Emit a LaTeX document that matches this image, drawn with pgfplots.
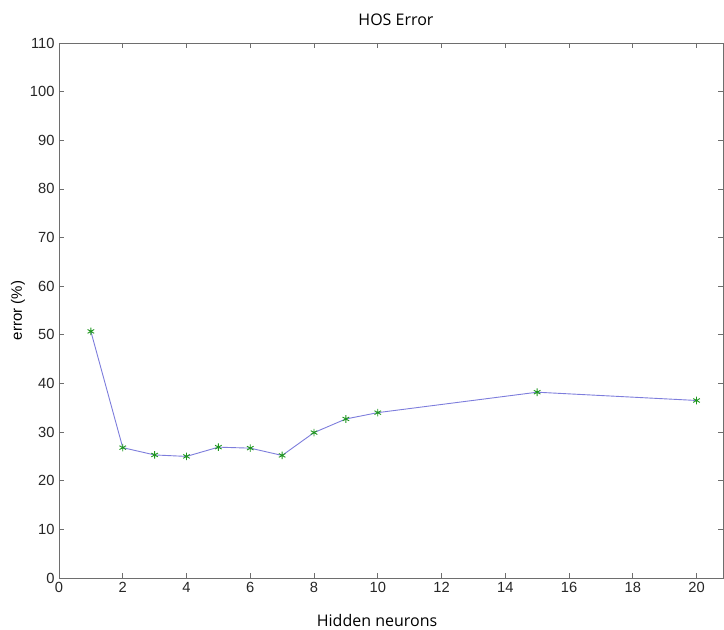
\documentclass[border=0pt]{standalone}
\usepackage{fontspec}
\setmainfont{Liberation Sans}
\newfontfamily\labfont{Open Sans}
\usepackage{pgfplots}
\pgfplotsset{compat=1.18}
\definecolor{linecol}{RGB}{125,125,220}
\definecolor{markcol}{RGB}{30,150,30}
\definecolor{axcol}{RGB}{110,110,110}
\begin{document}
\begin{tikzpicture}
\useasboundingbox (-59pt,-52pt) rectangle (665pt,578pt);
\begin{axis}[
  at={(0,0)}, anchor=south west,
  scale only axis, width=664pt, height=535pt,
  xmin=0, xmax=20.83, ymin=0, ymax=110,
  xtick={0,2,...,20}, ytick={0,10,...,110},
  tick align=inside, major tick length=5pt,
  axis line style={axcol, line width=0.9pt},
  tick style={axcol, line width=0.7pt},
  tick label style={font=\fontsize{14.7}{16}\selectfont, text=black!85},
  /pgf/number format/assume math mode=true,
  xticklabel style={yshift=-1pt},
  yticklabel style={xshift=-1pt},
  clip=false,
]
\addplot[color=linecol, line width=0.9pt, mark=asterisk, mark size=3.8pt,
  mark options={color=markcol, line width=0.9pt}]
coordinates {
(1,50.7) (2,26.8) (3,25.3) (4,25.0) (5,26.9) (6,26.7) (7,25.2)
(8,29.9) (9,32.7) (10,34.0) (15,38.2) (20,36.5)
};
\node[font=\labfont\fontsize{16}{18}\selectfont] at ([yshift=-42pt]rel axis cs:0.479,0) {Hidden neurons};
\node[font=\labfont\fontsize{16}{18}\selectfont] at ([yshift=23pt]rel axis cs:0.5075,1) {HOS Error};
\node[rotate=90, font=\fontsize{15}{17}\selectfont] at ([xshift=-41pt]rel axis cs:0,0.5) {error (\%)};
\end{axis}
\end{tikzpicture}
\end{document}
